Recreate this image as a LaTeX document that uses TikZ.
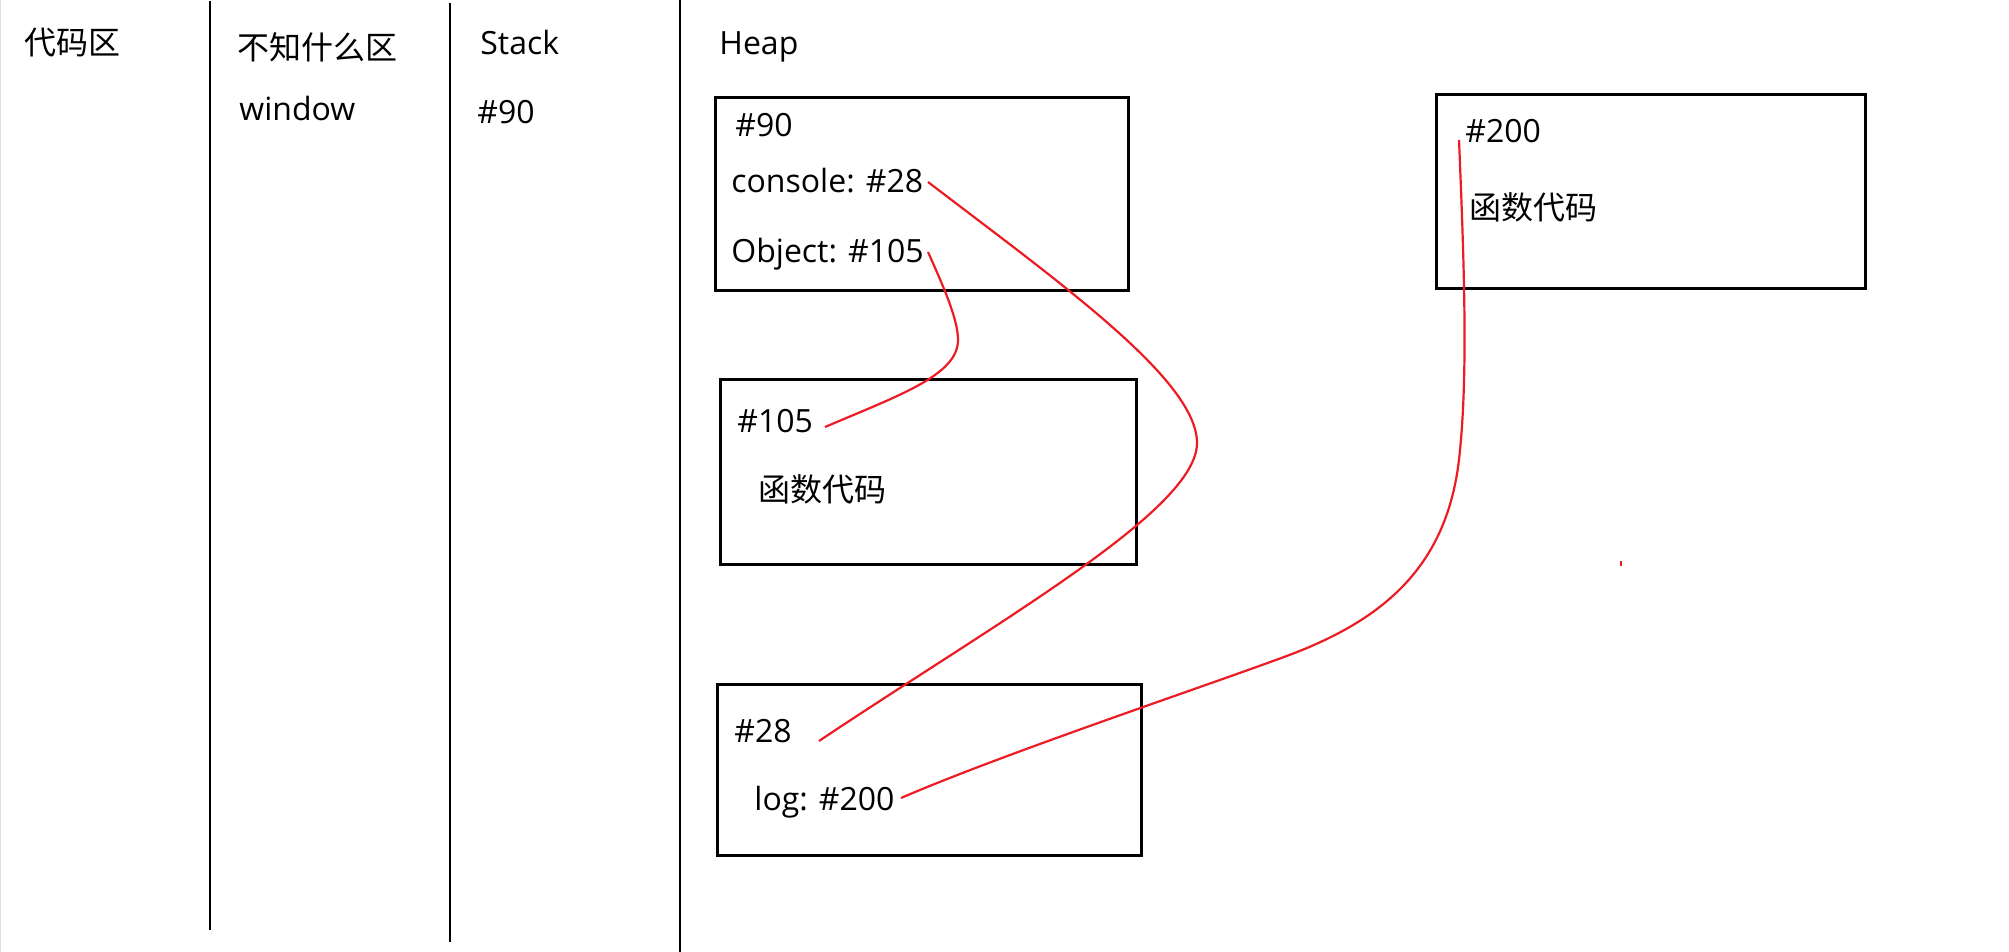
\documentclass[tikz,border=0pt]{standalone}
\usepackage{fontspec}
\setmainfont{Open Sans}
\newfontfamily\cjk{Noto Sans CJK SC}
\definecolor{linkred}{RGB}{237,28,36}
\definecolor{edgeblue}{RGB}{214,225,238}
\tikzset{
  sep/.style={line width=1.25pt, black},
  membox/.style={draw=black, line width=1.5pt, inner sep=0pt, anchor=north west},
  lbl/.style={inner sep=0pt, anchor=base west, font=\fontsize{16pt}{19pt}\selectfont},
  cjklbl/.style={inner sep=0pt, anchor=west, font=\fontsize{16pt}{19pt}\selectfont\cjk},
  link/.style={draw=linkred, line width=1.1pt}
}
\begin{document}
\begin{tikzpicture}[x=0.5pt,y=-0.5pt]
\useasboundingbox[fill=white] (0,0) rectangle (2009,952);
\draw[edgeblue, line width=0.5pt] (0.5,0) -- (0.5,952);
% column separators
\coordinate (s1t) at (210,1);   \coordinate (s1b) at (210,930);
\coordinate (s2t) at (450,3);   \coordinate (s2b) at (450,942);
\coordinate (s3t) at (680,0);   \coordinate (s3b) at (680,952);
\draw[sep] (s1t) -- (s1b);
\draw[sep] (s2t) -- (s2b);
\draw[sep] (s3t) -- (s3b);
% column headings
\node[cjklbl] (code) at (24,43) {代码区};
\node[cjklbl] (unk) at (237,47) {不知什么区};
\node[lbl] (stack) at (480,55) {Stack};
\node[lbl] (heap) at (719,55) {Heap};
\node[lbl] (win) at (239,121) {window};
\node[lbl] (st90) at (477,124) {\#90};
% heap boxes (sizes in pt = px/2)
\node[membox, minimum width=206.5pt, minimum height=96.5pt] (b90) at (714,96) {};
\node[membox, minimum width=208pt, minimum height=92.5pt] (b105) at (719,378) {};
\node[membox, minimum width=212pt, minimum height=85.5pt] (b28) at (716,683) {};
\node[membox, minimum width=214.5pt, minimum height=97pt] (b200) at (1435,93) {};
% box texts
\node[lbl] (t90) at (735,137) {\#90};
\node[lbl] (tcon) at (731,193) {console: \#28};
\node[lbl] (tobj) at (731,263) {Object: \#105};
\node[lbl] (t105) at (737,432) {\#105};
\node[cjklbl] (f105) at (758,489) {函数代码};
\node[lbl] (t28) at (734,742) {\#28};
\node[lbl] (tlog) at (754,810) {log: \#200};
\node[lbl] (t200) at (1465,143) {\#200};
\node[cjklbl] (f200) at (1469,207) {函数代码};
% connector end points
\coordinate (conEnd) at (928,182);
\coordinate (objEnd) at (928,252);
\coordinate (in105) at (825,427);
\coordinate (in28) at (819,741);
\coordinate (logEnd) at (901,798);
\coordinate (in200) at (1459,140);
% red links
\draw[link] (conEnd) .. controls (1060,283) and (1197,380) .. (1197,443)
  .. controls (1197,510) and (1000,620) .. (in28);
\draw[link] (objEnd) .. controls (945,290) and (958,320) .. (958,340)
  .. controls (958,375) and (900,395) .. (in105);
\draw[link] (in200) .. controls (1464,260) and (1468,370) .. (1460,450)
  .. controls (1450,565) and (1385,620) .. (1284,657)
  .. controls (1200,688) and (1000,755) .. (logEnd);
% stray dot
\fill[linkred] (1620,561) rectangle (1622,566);
\end{tikzpicture}
\end{document}
